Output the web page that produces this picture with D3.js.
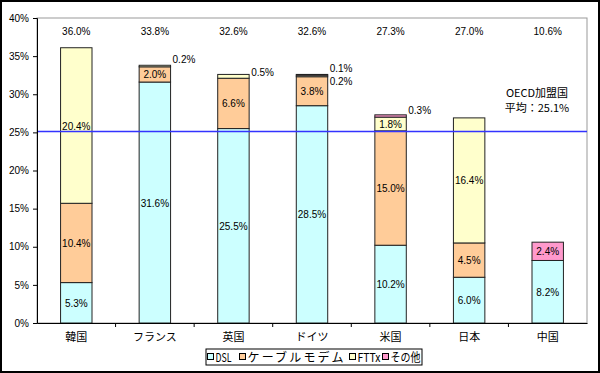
<!DOCTYPE html>
<html><head><meta charset="utf-8">
<script src="https://cdn.jsdelivr.net/npm/d3@7"></script>
<style>
body{margin:0;background:#fff;}
svg text{font-family:"Noto Sans CJK JP","Noto Sans",sans-serif;fill:#000;}
svg text.num{font-family:"Liberation Sans","DejaVu Sans",sans-serif;}
</style></head><body>
<svg id="c" width="600" height="373"></svg>
<script>
const categories = ["韓国","フランス","英国","ドイツ","米国","日本","中国"];
const seriesNames = ["DSL","ケーブルモデム","FTTx","その他"];
const dsl   = [5.3, 31.6, 25.5, 28.5, 10.2, 6.0, 8.2];
const cable = [10.4, 2.0, 6.6, 3.8, 15.0, 4.5, 0];
const fttx  = [20.4, 0.2, 0.5, 0.2, 1.8, 16.4, 0];
const other = [0, 0, 0, 0.1, 0.3, 0, 2.4];
const totals = ["36.0%","33.8%","32.6%","32.6%","27.3%","27.0%","10.6%"];
const yTicks = [0,5,10,15,20,25,30,35,40];
const oecdAvg = 25.1;
const colors = ["#CCFFFF","#FFCC99","#FFFFCC","#FF99CC"];

const svg = d3.select("#c");
const W=600,H=373;
svg.append("rect").attr("x",1).attr("y",1).attr("width",W-2).attr("height",H-2)
  .attr("fill","#fff").attr("stroke","#000").attr("stroke-width",2);

const L=37,R=587,T=18,B=323;
const x = d3.scaleBand().domain(categories).range([L,R]).paddingInner(0).paddingOuter(0);
const y = d3.scaleLinear().domain([0,40]).range([B,T]);

svg.append("rect").attr("x",L).attr("y",T).attr("width",R-L).attr("height",B-T)
  .attr("fill","none").attr("stroke","#999").attr("stroke-width",1);

const data = categories.map((c,i)=>({cat:c, DSL:dsl[i], "ケーブルモデム":cable[i], FTTx:fttx[i], "その他":other[i]}));
const stack = d3.stack().keys(seriesNames)(data);
const bw = x.bandwidth()*0.4;

stack.forEach((s,k)=>{
  svg.append("g").selectAll("rect").data(s).join("rect")
    .attr("x",d=>x(d.data.cat)+(x.bandwidth()-bw)/2)
    .attr("y",d=>y(d[1]))
    .attr("width",bw)
    .attr("height",d=>Math.max(0,y(d[0])-y(d[1])))
    .attr("fill",colors[k])
    .attr("stroke","#222").attr("stroke-width",1)
    .attr("display",d=>d[1]-d[0]>0?null:"none");
});

const yAxis = d3.axisLeft(y).tickValues(yTicks).tickFormat(d=>d+"%").tickSize(4);
const gy = svg.append("g").attr("transform",`translate(${L},0)`).call(yAxis);
gy.select(".domain").attr("stroke","#000");
gy.selectAll("text").attr("class","num").attr("font-size",10).attr("x",-8);
const xAxis = d3.axisBottom(x).tickSize(0).tickSizeOuter(0);
const gx = svg.append("g").attr("transform",`translate(0,${B})`).call(xAxis);
gx.select(".domain").attr("stroke","#000");
gx.selectAll("text").attr("font-size",11).attr("y",0).attr("dy",18);
svg.append("g").selectAll("line").data(categories.slice(1)).join("line")
  .attr("x1",d=>x(d)).attr("x2",d=>x(d)).attr("y1",B).attr("y2",B+4).attr("stroke","#000");

svg.append("line").attr("x1",L+1).attr("x2",R).attr("y1",y(oecdAvg)).attr("y2",y(oecdAvg))
  .attr("stroke","#3333FF").attr("stroke-width",1.5);
svg.append("text").attr("x",537).attr("y",97).attr("text-anchor","middle").attr("font-size",11).text("OECD加盟国");
svg.append("text").attr("x",537).attr("y",112).attr("text-anchor","middle").attr("font-size",11).text("平均：25.1%");

svg.append("g").selectAll("text").data(totals).join("text").attr("class","num")
  .attr("x",(d,i)=>x(categories[i])+x.bandwidth()/2).attr("y",35)
  .attr("text-anchor","middle").attr("font-size",10).text(d=>d);

const fmt = v=>v.toFixed(1)+"%";
stack.forEach((s,k)=>{
  s.forEach((d,i)=>{
    const v=d[1]-d[0];
    if(v<1) return;
    const cx = x(d.data.cat)+x.bandwidth()/2;
    svg.append("text").attr("class","num").attr("x",cx).attr("y",y((d[0]+d[1])/2)+4)
      .attr("text-anchor","middle").attr("font-size",10).text(fmt(v));
  });
});
const smallLabels = [
  {i:1,k:2,dy:-6},{i:2,k:2,dy:-2},{i:3,k:3,dy:-6},{i:3,k:2,dy:6},{i:4,k:3,dy:-5}
];
smallLabels.forEach(o=>{
  const d = stack[o.k][o.i];
  const bx = x(categories[o.i])+(x.bandwidth()+bw)/2;
  svg.append("text").attr("class","num").attr("x",bx+2).attr("y",y(d[1])+4+o.dy)
    .attr("font-size",10).text(fmt(d[1]-d[0]));
});

const lg = svg.append("g");
lg.append("rect").attr("x",206).attr("y",349).attr("width",216).attr("height",16)
  .attr("fill","#fff").attr("stroke","#000");
const legX=[207.5,239.5,349.5,382.5];
const legLen=[16,96,23,30];
seriesNames.forEach((n,k)=>{
  lg.append("rect").attr("x",legX[k]).attr("y",353.5).attr("width",6).attr("height",6)
    .attr("fill",colors[k]).attr("stroke","#000");
  lg.append("text").attr("x",legX[k]+8).attr("y",362).attr("font-size",12)
    .attr("textLength",legLen[k]).attr("lengthAdjust",k===1?"spacing":"spacingAndGlyphs").text(n);
});
</script></body></html>
